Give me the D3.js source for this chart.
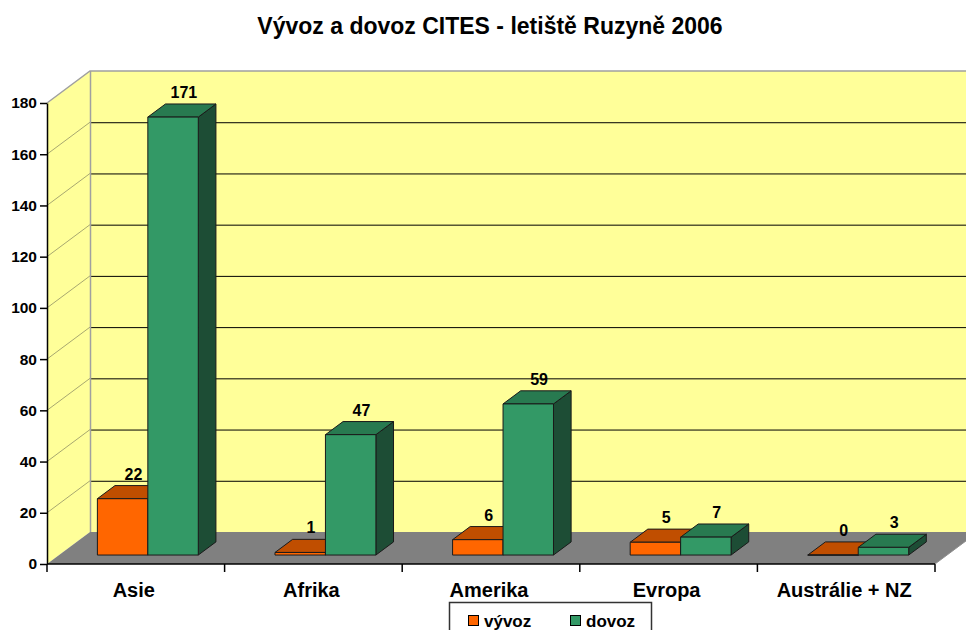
<!DOCTYPE html>
<html>
<head>
<meta charset="utf-8">
<script src="https://cdn.jsdelivr.net/npm/d3@7"></script>
<style>
  body { margin: 0; background: #fff; }
  text { font-family: "Liberation Sans", Arial, sans-serif; font-weight: bold; fill: #000; }
</style>
</head>
<body>
<svg id="chart" width="966" height="630"></svg>
<script>
const categories = ['Asie', 'Afrika', 'Amerika', 'Evropa', 'Austrálie + NZ'];
const series = ['vývoz', 'dovoz'];
const vyvoz = [22, 1, 6, 5, 0];
const dovoz = [171, 47, 59, 7, 3];
const yTicks = [0, 20, 40, 60, 80, 100, 120, 140, 160, 180];

const colors = {
    'vývoz': { front: '#ff6600', top: '#c04e00', side: '#8a3a00' },
    'dovoz': { front: '#339966', top: '#287a50', side: '#1d4d35' }
};

const svg = d3.select('#chart');
const left = 47, right = 935, base = 564;
const depthX = 43, depthY = 32;   // depth of the 3d box
const z0 = 0.28, z1 = 0.69;       // bar depth position
const yMax = 180;

const x = d3.scaleBand().domain(categories).range([left, right]);
const xs = d3.scaleBand().domain(series).range([0, x.bandwidth()]).paddingOuter(0.76);
const y = d3.scaleLinear().domain([0, yMax]).range([base, 103]);

const px = (xv, z) => xv + z * depthX;
const py = (v, z) => y(v) - z * depthY;
const pts = arr => arr.map(p => p.join(',')).join(' ');

// title
svg.append('text')
    .attr('x', 490).attr('y', 34)
    .attr('text-anchor', 'middle')
    .style('font-size', '23px')
    .text('Vývoz a dovoz CITES - letiště Ruzyně 2006');

// walls
svg.append('polygon')
    .attr('points', pts([[px(left, 1), py(0, 1)], [1000, py(0, 1)], [1000, py(yMax, 1)], [px(left, 1), py(yMax, 1)]]))
    .attr('fill', '#ffff99');
svg.append('polygon')
    .attr('points', pts([[left, y(0)], [px(left, 1), py(0, 1)], [px(left, 1), py(yMax, 1)], [left, y(yMax)]]))
    .attr('fill', '#ffff99');

// gridlines
yTicks.filter(d => d > 0 && d < yMax).forEach(d => {
    svg.append('line')
        .attr('x1', px(left, 1)).attr('x2', 1000)
        .attr('y1', py(d, 1) + 0.5).attr('y2', py(d, 1) + 0.5)
        .attr('stroke', '#000').attr('stroke-width', 1);
    svg.append('line')
        .attr('x1', left).attr('y1', y(d))
        .attr('x2', px(left, 1)).attr('y2', py(d, 1))
        .attr('stroke', '#a8a870').attr('stroke-width', 1);
});

// wall outline
svg.append('polyline')
    .attr('points', pts([[left, y(yMax)], [px(left, 1), py(yMax, 1)], [1000, py(yMax, 1)]]))
    .attr('fill', 'none').attr('stroke', '#a0a0a0').attr('stroke-width', 1.5);
svg.append('line')
    .attr('x1', px(left, 1) + 0.5).attr('x2', px(left, 1) + 0.5)
    .attr('y1', py(yMax, 1)).attr('y2', py(0, 1))
    .attr('stroke', '#a0a0a0').attr('stroke-width', 1.5);

// floor
svg.append('polygon')
    .attr('points', pts([[left, y(0)], [right, y(0)], [px(right, 1), py(0, 1)], [px(left, 1), py(0, 1)]]))
    .attr('fill', '#808080');

// bars
const data = categories.map((c, i) => ({ cat: c, values: [
    { s: 'vývoz', v: vyvoz[i] }, { s: 'dovoz', v: dovoz[i] }
] }));

data.forEach(d => {
    d.values.forEach(b => {
        const xa = x(d.cat) + xs(b.s);
        const xb = xa + xs.bandwidth();
        const g = svg.append('g').attr('stroke', '#1a1a1a').attr('stroke-width', 1).attr('stroke-linejoin', 'round');
        g.append('polygon')
            .attr('points', pts([[px(xb, z0), py(0, z0)], [px(xb, z1), py(0, z1)], [px(xb, z1), py(b.v, z1)], [px(xb, z0), py(b.v, z0)]]))
            .attr('fill', colors[b.s].side);
        g.append('polygon')
            .attr('points', pts([[px(xa, z0), py(b.v, z0)], [px(xb, z0), py(b.v, z0)], [px(xb, z1), py(b.v, z1)], [px(xa, z1), py(b.v, z1)]]))
            .attr('fill', colors[b.s].top);
        g.append('polygon')
            .attr('points', pts([[px(xa, z0), py(0, z0)], [px(xb, z0), py(0, z0)], [px(xb, z0), py(b.v, z0)], [px(xa, z0), py(b.v, z0)]]))
            .attr('fill', colors[b.s].front);
        svg.append('text')
            .attr('x', px((xa + xb) / 2, (z0 + z1) / 2) + 2)
            .attr('y', py(b.v, z1) - 6)
            .attr('text-anchor', 'middle')
            .style('font-size', '16px')
            .text(b.v);
    });
});

// y axis
const yAxis = svg.append('g')
    .attr('transform', `translate(${left},0)`)
    .call(d3.axisLeft(y).tickValues(yTicks).tickSize(7).tickSizeOuter(0).tickPadding(3));
yAxis.select('.domain').attr('stroke', '#000').attr('stroke-width', 1.5);
yAxis.selectAll('.tick line').attr('stroke', '#000').attr('stroke-width', 1.5);
yAxis.selectAll('.tick text').style('font-size', '15.5px').style('font-family', '"Liberation Sans", Arial, sans-serif').style('font-weight', 'bold');

// x axis
svg.append('line')
    .attr('x1', left).attr('x2', right)
    .attr('y1', base).attr('y2', base)
    .attr('stroke', '#000').attr('stroke-width', 1.5);
categories.concat([null]).forEach(c => {
    const xv = c ? x(c) : right;
    svg.append('line')
        .attr('x1', xv).attr('x2', xv)
        .attr('y1', base).attr('y2', base + 8)
        .attr('stroke', '#000').attr('stroke-width', 1.5);
});
categories.forEach(c => {
    svg.append('text')
        .attr('x', x(c) + x.bandwidth() / 2 - 2)
        .attr('y', 597)
        .attr('text-anchor', 'middle')
        .style('font-size', '20px')
        .text(c);
});
// floor right edge
svg.append('line')
    .attr('x1', right).attr('y1', base)
    .attr('x2', px(right, 1)).attr('y2', py(0, 1))
    .attr('stroke', '#909090').attr('stroke-width', 1);

// legend
const legend = svg.append('g').attr('transform', 'translate(449,602)');
legend.append('rect')
    .attr('x', 0.5).attr('y', 0.5).attr('width', 202).attr('height', 40)
    .attr('fill', '#fff').attr('stroke', '#333').attr('stroke-width', 1.5);
series.forEach((s, i) => {
    const lx = 19 + i * 102;
    legend.append('rect')
        .attr('x', lx + 0.5).attr('y', 13.5).attr('width', 10).attr('height', 10)
        .attr('fill', colors[s].front).attr('stroke', '#000').attr('stroke-width', 1);
    legend.append('text')
        .attr('x', lx + 16).attr('y', 25)
        .style('font-size', '17px')
        .text(s);
});
</script>
</body>
</html>
